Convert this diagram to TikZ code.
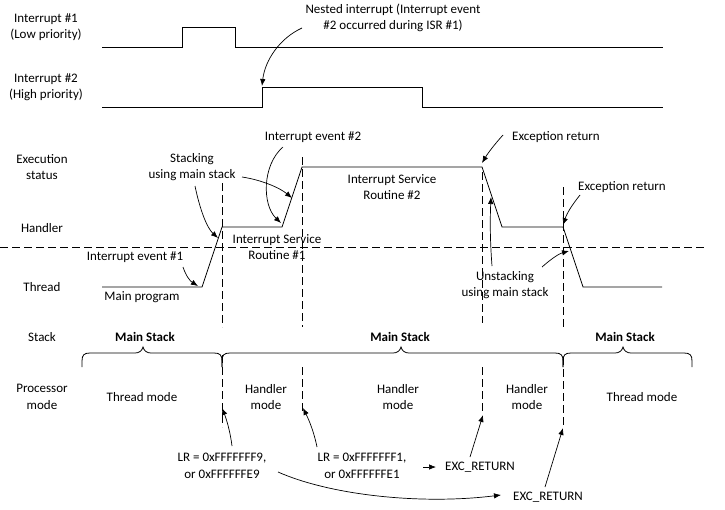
\documentclass[tikz,border=0pt]{standalone}
\usepackage{fontspec}
\setmainfont{Carlito}
\usetikzlibrary{arrows.meta}
\newcommand\mybrace[3]{%
  \draw[sig] (#1,367) -- (#1,361) .. controls (#1,355) and (#1+2,353) .. (#1+8,353)
    -- (#2-8,353) .. controls (#2-4,353) and (#2-1,351) .. (#2,347)
    .. controls (#2+1,351) and (#2+4,353) .. (#2+8,353)
    -- (#3-8,353) .. controls (#3-2,353) and (#3,355) .. (#3,361) -- (#3,367);}
\begin{document}
\begin{tikzpicture}[x=1pt,y=-1pt,
  lbl/.style={font=\fontsize{13}{16.5}\selectfont, align=center, inner sep=0pt},
  bl/.style={font=\fontsize{13}{16.5}\selectfont\bfseries, align=center, inner sep=0pt},
  sig/.style={line width=0.8pt},
  grid/.style={line width=0.8pt, dash pattern=on 8pt off 4pt},
  arr/.style={line width=0.7pt, -{Latex[length=7pt,width=5.5pt]}},
]
\useasboundingbox (0,0) rectangle (725,509);

% signals
\draw[sig] (102,47) -- (182,47) -- (182,27) -- (235,27) -- (235,47) -- (663,47);
\draw[sig] (102,107) -- (262,107) -- (262,87) -- (422,87) -- (422,107) -- (663,107);
\draw[sig] (102,287) -- (202,287) -- (222,227) -- (282,227) -- (302,167) -- (482,167)
  -- (502,227) -- (563,227) -- (583,287) -- (662,287);

% dashed grid
\draw[grid] (0,247) -- (705,247);
\draw[grid] (222,183) -- (222,327);
\draw[grid] (222,355) -- (222,427);
\draw[grid] (302,157) -- (302,327);
\draw[grid] (302,367) -- (302,413);
\draw[grid] (482,172) -- (482,323);
\draw[grid] (482,367) -- (482,412);
\draw[grid] (563,187) -- (563,328);
\draw[grid] (563,357) -- (563,428);

% braces
\mybrace{82}{143}{222}
\mybrace{222}{401}{563}
\mybrace{563}{623}{692}

% left labels
\node[lbl] (i1) at (46,27) {Interrupt \#1\\(Low priority)};
\node[lbl] (i2) at (46,87) {Interrupt \#2\\(High priority)};
\node[lbl] (es) at (42,167) {Execution\\status};
\node[lbl] (hd) at (42,228) {Handler};
\node[lbl] (th) at (42,287) {Thread};
\node[lbl] (st) at (42,337) {Stack};
\node[lbl] (pm) at (42,397) {Processor\\mode};

% top annotation
\node[lbl] (nest) at (393,18) {Nested interrupt (Interrupt event\\\#2 occurred during ISR \#1)};

% execution annotations
\node[lbl] (ev1) at (135,257) {Interrupt event \#1};
\node[lbl] (mp) at (142,297) {Main program};
\node[lbl] (stk) at (192,167) {Stacking\\using main stack};
\node[lbl] (ev2) at (313,137) {Interrupt event \#2};
\node[lbl] (isr1) at (277,247) {Interrupt Service\\Routine \#1};
\node[lbl] (isr2) at (392,187) {Interrupt Service\\Routine \#2};
\node[lbl] (er1) at (556,137) {Exception return};
\node[lbl] (er2) at (622,187) {Exception return};
\node[lbl] (unst) at (505,285) {Unstacking\\using main stack};

% stack labels
\node[bl] (ms1) at (145,337) {Main Stack};
\node[bl] (ms2) at (400,337) {Main Stack};
\node[bl] (ms3) at (625,337) {Main Stack};

% processor mode
\node[lbl] (tm1) at (142,397) {Thread mode};
\node[lbl] (hm1) at (266,397) {Handler\\mode};
\node[lbl] (hm2) at (398,397) {Handler\\mode};
\node[lbl] (hm3) at (527,397) {Handler\\mode};
\node[lbl] (tm2) at (642,397) {Thread mode};

% bottom
\node[lbl] (lr1) at (222,466) {LR = 0xFFFFFFF9,\\or 0xFFFFFFE9};
\node[lbl] (lr2) at (362,466) {LR = 0xFFFFFFF1,\\or 0xFFFFFFE1};
\node[lbl] (exc1) at (480,467) {EXC\_RETURN};
\node[lbl] (exc2) at (548,497) {EXC\_RETURN};

% arrow end points
\coordinate (nestS) at (302,28);  \coordinate (nestE) at (262,86);
\coordinate (ev1S) at (183,267);  \coordinate (ev1E) at (198,286);
\coordinate (stkS) at (195,186);  \coordinate (stkE) at (218,238);
\coordinate (stk2S) at (242,177); \coordinate (stk2E) at (292,198);
\coordinate (ev2S) at (283,147);  \coordinate (ev2E) at (281,223);
\coordinate (er1S) at (503,135);  \coordinate (er1E) at (482,163);
\coordinate (er2S) at (580,195);  \coordinate (er2E) at (563,225);
\coordinate (unS) at (492,266);   \coordinate (unE) at (491,197);
\coordinate (un2S) at (542,267);  \coordinate (un2E) at (569,251);
\coordinate (lr1S) at (232,446);  \coordinate (lr1E) at (222,408);
\coordinate (lr2S) at (317,447);  \coordinate (lr2E) at (303,408);
\coordinate (lr2R) at (423,467);  \coordinate (exc1L) at (436,467);
\coordinate (exc1S) at (470,457); \coordinate (exc1E) at (483,415);
\coordinate (exc2S) at (545,487); \coordinate (exc2E) at (563,428);
\coordinate (lr1R) at (278,472);  \coordinate (exc2L) at (501,495);

\draw[arr] (nestS) .. controls (280,38) and (265,60) .. (nestE);
\draw[arr] (ev1S) .. controls (186,276) and (190,281) .. (ev1E);
\draw[arr] (stkS) .. controls (200,210) and (207,228) .. (stkE);
\draw[arr] (stk2S) .. controls (262,180) and (280,188) .. (stk2E);
\draw[arr] (ev2S) .. controls (262,165) and (262,205) .. (ev2E);
\draw[arr] (er1S) .. controls (494,145) and (488,153) .. (er1E);
\draw[arr] (er2S) .. controls (572,205) and (567,213) .. (er2E);
\draw[arr] (unS) .. controls (490,240) and (490,220) .. (unE);
\draw[arr] (un2S) .. controls (550,260) and (558,254) .. (un2E);
\draw[arr] (lr1S) .. controls (230,430) and (226,418) .. (lr1E);
\draw[arr] (lr2S) .. controls (314,432) and (309,420) .. (lr2E);
\draw[arr] (lr2R) -- (exc1L);
\draw[arr] (exc1S) -- (exc1E);
\draw[arr] (exc2S) -- (exc2E);
\draw[arr] (lr1R) .. controls (330,495) and (420,505) .. (exc2L);
\end{tikzpicture}
\end{document}
